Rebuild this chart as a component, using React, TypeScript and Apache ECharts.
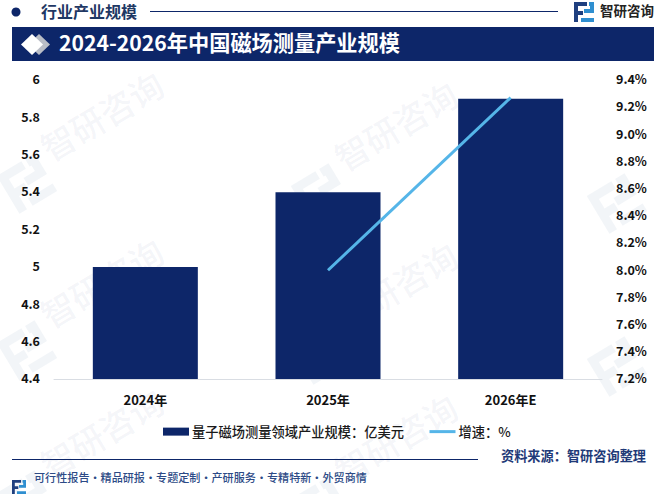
import React, { useEffect, useRef } from "react";
import * as echarts from "echarts";

const categories = ["2024年", "2025年", "2026年E"];
const scaleValues = [5, 5.4, 5.9];
const growthValues = [null, 8.0, 9.27];
const barName = "量子磁场测量领域产业规模：亿美元";
const lineName = "增速：%";
const titleText = "2024-2026年中国磁场测量产业规模";
const headerText = "行业产业规模";
const brandText = "智研咨询";
const sourceText = "资料来源：智研咨询整理";
const footerText = "可行性报告·精品研报·专题定制·产研服务·专精特新·外贸商情";

const NAVY = "#0d2669";
const LINE = "#55b5e8";
const FONT = '"Noto Sans CJK SC", "Noto Sans", sans-serif';

const LOGO_A = "M0 0H13V4H4V9H9V13H4V20H0Z";
const LOGO_B = "M15 0H20V11H10V7H16V4H15Z M7 16H20V20H7Z";
echarts.graphic.registerShape("logoA", echarts.graphic.extendPath(LOGO_A as any, {} as any) as any);
echarts.graphic.registerShape("logoB", echarts.graphic.extendPath(LOGO_B as any, {} as any) as any);

const watermarkAnchors = [
  [52, 165, 1], [346, 175, 1], [642, 185, 0],
  [52, 332, 1], [346, 336, 1], [642, 348, 0],
  [52, 482, 1], [346, 488, 1],
];

function watermark(x: number, y: number, withText: number) {
  const fill = "rgba(110,125,160,0.075)";
  const logoFill = "rgba(110,135,170,0.085)";
  const children: any[] = [
    { type: "logoA", x: -53, y: -19, scaleX: 2.2, scaleY: 2.2, z: -1, style: { fill: logoFill } },
    { type: "logoB", x: -53, y: -19, scaleX: 2.2, scaleY: 2.2, z: -1, style: { fill: logoFill } },
  ];
  if (withText) {
    children.push({ type: "text", x: 0, y: 0, z: -1, style: { text: brandText, fontSize: 34, fontWeight: 500, fontFamily: FONT, fill, verticalAlign: "bottom" } });
  }
  return { type: "group", x, y, rotation: (31 * Math.PI) / 180, silent: true, z: -1, children };
}

export default function App() {
  const ref = useRef<HTMLDivElement>(null);
  useEffect(() => {
    document.body.style.margin = "0";
    const chart = echarts.init(ref.current!, undefined, { renderer: "svg" });
    const valueLabel = { color: "#111", fontSize: 12.5, fontWeight: "bold", margin: 14, fontFamily: FONT, verticalAlign: "bottom", padding: [0, 0, -5, 0] };
    chart.setOption({
      animation: false,
      backgroundColor: "#ffffff",
      textStyle: { fontFamily: FONT },
      grid: { left: 54, right: 56, top: 80, bottom: 115 },
      legend: {
        left: 158, top: 420, itemWidth: 26, itemHeight: 8, itemGap: 24,
        textStyle: { fontSize: 13.25, fontWeight: 500, color: "#1a1a1a", fontFamily: FONT, padding: [0, 0, 0, -2] },
        data: [
          { name: barName, icon: "rect" },
          { name: lineName, itemStyle: { opacity: 0 }, lineStyle: { color: LINE, width: 3, opacity: 1 } },
        ],
      },
      xAxis: {
        type: "category", data: categories,
        axisLine: { lineStyle: { color: "#d9dde3", width: 1 } }, axisTick: { show: false },
        axisLabel: { color: "#111", fontSize: 13, fontWeight: "bold", margin: 14, fontFamily: FONT },
      },
      yAxis: [
        {
          type: "value", min: 4.4, max: 6, interval: 0.2, splitLine: { show: false },
          axisLine: { show: false }, axisTick: { show: false },
          axisLabel: { ...valueLabel, formatter: (v: number) => String(Number(v.toFixed(1))) },
        },
        {
          type: "value", min: 7.2, max: 9.4, interval: 0.2, splitLine: { show: false },
          axisLine: { show: false }, axisTick: { show: false },
          axisLabel: { ...valueLabel, formatter: (v: number) => v.toFixed(1) + "%" },
        },
      ],
      series: [
        { name: barName, type: "bar", data: scaleValues, barWidth: 105, itemStyle: { color: NAVY }, yAxisIndex: 0 },
        { name: lineName, type: "line", data: growthValues, yAxisIndex: 1, symbol: "none", connectNulls: false, lineStyle: { color: LINE, width: 3 }, itemStyle: { color: LINE } },
      ],
      graphic: [
        ...watermarkAnchors.map(([x, y, t]) => watermark(x, y, t)),
        { type: "circle", shape: { cx: 16, cy: 12, r: 4.5 }, style: { fill: NAVY } },
        { type: "text", x: 41, y: 3, style: { text: headerText, fontSize: 16, fontWeight: "bold", fill: "#1f3864", fontFamily: FONT } },
        { type: "line", shape: { x1: 150, y1: 11.5, x2: 558, y2: 11.5 }, style: { stroke: NAVY, lineWidth: 1 } },
        { type: "logoA", x: 574, y: 2, style: { fill: "#1f3f7f" } },
        { type: "logoB", x: 574, y: 2, style: { fill: "#2f8fd0" } },
        { type: "text", x: 600, y: 3, style: { text: brandText, fontSize: 13.5, fontWeight: "bold", fill: "#222", fontFamily: FONT } },
        { type: "rect", shape: { x: 12, y: 27, width: 642, height: 34 }, style: { fill: NAVY } },
        { type: "polygon", shape: { points: [[39, 34], [50, 44.5], [39, 55], [28, 44.5]] }, style: { fill: "#b9bdc6" } },
        { type: "polygon", shape: { points: [[32, 34], [43, 44.5], [32, 55], [21, 44.5]] }, style: { fill: "#ffffff" } },
        { type: "text", x: 59, y: 31, style: { text: titleText, fontSize: 21.2, fontWeight: "bold", fill: "#ffffff", fontFamily: FONT } },
        { type: "line", shape: { x1: 12, y1: 459.5, x2: 478, y2: 459.5 }, style: { stroke: NAVY, lineWidth: 1 } },
        { type: "text", x: 501, y: 449, style: { text: sourceText, fontSize: 13.2, fontWeight: "bold", fill: "#1f3a78", fontFamily: FONT } },
        { type: "logoA", x: 12, y: 480, scaleX: 0.7, scaleY: 0.7, style: { fill: "#1f3f7f" } },
        { type: "logoB", x: 12, y: 480, scaleX: 0.7, scaleY: 0.7, style: { fill: "#2f8fd0" } },
        { type: "text", x: 34, y: 471, style: { text: footerText, fontSize: 11.1, fontWeight: 500, fill: "#2c4a86", fontFamily: FONT } },
      ],
    });
    return () => chart.dispose();
  }, []);
  return <div ref={ref} style={{ width: 658, height: 494 }} />;
}
